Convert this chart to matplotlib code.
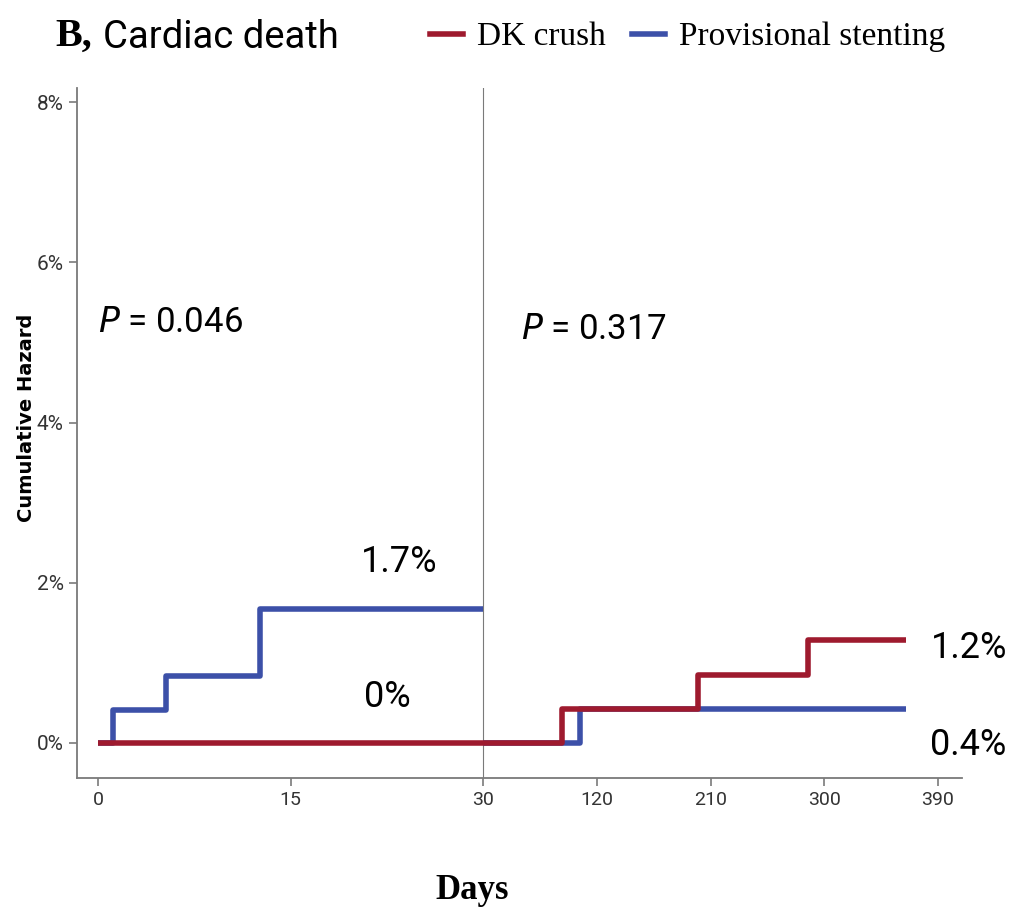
import numpy as np
import matplotlib
matplotlib.use('Agg')
import matplotlib.pyplot as plt
from matplotlib.lines import Line2D

# cumulative hazard (%)
dk_days = [0, 92, 200, 287, 365]
dk_hazard = [0, 0.42, 0.85, 1.28, 1.28]
ps_days_early = [0, 1.2, 5.3, 12.6, 30]
ps_hazard_early = [0, 0.41, 0.83, 1.67, 1.67]
ps_days_late = [30, 107, 365]
ps_hazard_late = [0, 0.42, 0.42]

x_ticks = [0, 15, 30, 120, 210, 300, 390]
y_ticks = [0, 2, 4, 6, 8]
y_ticklabels = ['0%', '2%', '4%', '6%', '8%']

RED = '#9E1A2E'
BLUE = '#3C50A8'
GREY = '#7a7a7a'
SANS = ['Roboto', 'DejaVu Sans']
SERIF = ['Liberation Serif', 'DejaVu Serif']

# broken time axis: first 30 days stretched, rest compressed
BREAK = 30.0
RATIO = 0.0984

def fwd(d):
    d = np.asarray(d, dtype=float)
    return np.where(d <= BREAK, d, BREAK + (d - BREAK) * RATIO)

def inv(p):
    p = np.asarray(p, dtype=float)
    return np.where(p <= BREAK, p, BREAK + (p - BREAK) / RATIO)

fig = plt.figure(figsize=(10.1, 9.21), dpi=100)
ax = fig.add_axes([0.0762, 0.1553, 0.8763, 0.7492])
ax.set_xscale('function', functions=(fwd, inv))

lw = 4.0
ax.plot(ps_days_early, ps_hazard_early, drawstyle='steps-post', color=BLUE, lw=lw, solid_capstyle='butt', zorder=3)
ax.plot(ps_days_late, ps_hazard_late, drawstyle='steps-post', color=BLUE, lw=lw, solid_capstyle='butt', zorder=3)
ax.plot(dk_days, dk_hazard, drawstyle='steps-post', color=RED, lw=lw, solid_capstyle='butt', zorder=4)

ax.axvline(BREAK, color=GREY, lw=0.8, zorder=2)

ax.set_xlim(-1.64, 409)
ax.set_ylim(-0.44, 8.18)

ax.set_xticks(x_ticks)
ax.set_xticklabels([str(t) for t in x_ticks])
ax.set_yticks(y_ticks)
ax.set_yticklabels(y_ticklabels)
ax.xaxis.set_minor_locator(plt.NullLocator())

for s in ['top', 'right']:
    ax.spines[s].set_visible(False)
for s in ['left', 'bottom']:
    ax.spines[s].set_color(GREY)
    ax.spines[s].set_linewidth(1.3)

ax.tick_params(axis='both', colors=GREY, width=1.2, length=6, labelcolor='#333333')
for lab in ax.get_xticklabels():
    lab.set_family(SANS)
    lab.set_fontsize(14)
for lab in ax.get_yticklabels():
    lab.set_family(SANS)
    lab.set_fontsize(15)

# annotations
big = 26
ax.text(0, 5.25, '$\\mathit{P}$ = 0.046', family=SANS, fontsize=25, va='center', ha='left')
ax.text(60, 5.16, '$\\mathit{P}$ = 0.317', family=SANS, fontsize=25, va='center', ha='left')
ax.text(23.5, 2.26, '1.7%', family=SANS, fontsize=big, va='center', ha='center')
ax.text(22.5, 0.57, '0%', family=SANS, fontsize=big, va='center', ha='center')
ax.text(384, 1.18, '1.2%', family=SANS, fontsize=big, va='center', ha='left', clip_on=False)
ax.text(384, -0.03, '0.4%', family=SANS, fontsize=big, va='center', ha='left', clip_on=False)

# titles and labels
fig.text(55 / 1010, 1 - 36 / 921, 'B,', family=SERIF, fontweight='bold', fontsize=29, va='center', ha='left')
fig.text(103 / 1010, 1 - 37 / 921, 'Cardiac death', family=SANS, fontsize=27.5, va='center', ha='left')
fig.text(27 / 1010, 1 - 418 / 921, 'Cumulative Hazard', family=['DejaVu Sans'], fontweight='bold',
         fontsize=14, rotation=90, va='center', ha='center')
fig.text(472 / 1010, 1 - 890 / 921, 'Days', family=SERIF, fontweight='bold', fontsize=25, va='center', ha='center')

handles = [Line2D([], [], color=RED, lw=lw), Line2D([], [], color=BLUE, lw=lw)]
fig.legend(handles, ['DK crush', 'Provisional stenting'], loc='center left',
           bbox_to_anchor=(430 / 1010, 1 - 37 / 921), ncol=2, frameon=False,
           prop={'family': SERIF, 'size': 24}, handlelength=1.0, handletextpad=0.4,
           columnspacing=0.8, borderpad=0, borderaxespad=0)

fig.savefig('out.png', dpi=100)
